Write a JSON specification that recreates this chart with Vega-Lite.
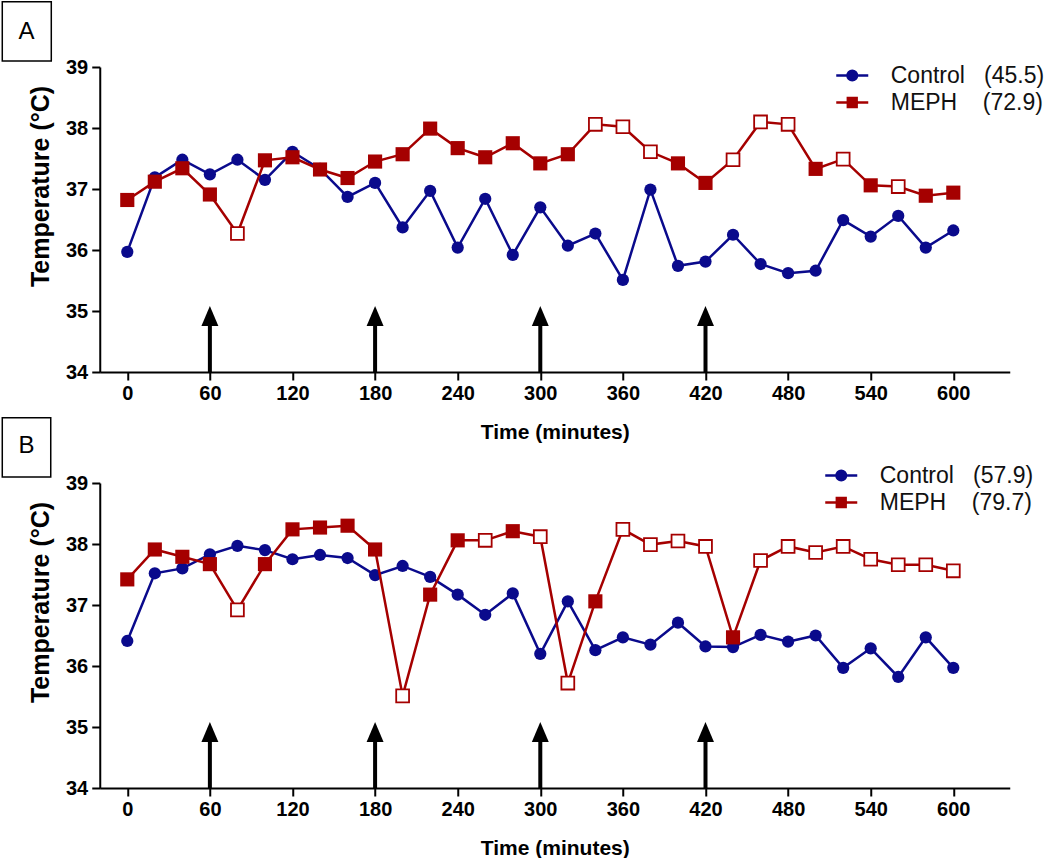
{
  "$schema": "https://vega.github.io/schema/vega-lite/v6.json",
  "padding": {"left": 0.75, "top": 0, "right": 0, "bottom": 0},
  "background": "white",
  "bounds": "flush",
  "spacing": 111,
  "config": {
    "view": {"stroke": null},
    "font": "Liberation Sans",
    "axis": {
      "grid": false, "domainColor": "black", "domainWidth": 2, "tickColor": "black", "tickWidth": 2, "tickSize": 8,
      "labelFont": "Liberation Sans", "labelFontWeight": "bold", "labelFontSize": 20, "labelColor": "black",
      "titleFont": "Liberation Sans", "titleFontWeight": "bold", "titleColor": "black",
      "labelFlush": false, "labelOverlap": false
    }
  },
  "datasets": {
    "main": [
      {"p":"A","g":"Control","t":0,"v":35.97,"o":false},{"p":"A","g":"Control","t":20,"v":37.19,"o":false},{"p":"A","g":"Control","t":40,"v":37.48,"o":false},{"p":"A","g":"Control","t":60,"v":37.24,"o":false},{"p":"A","g":"Control","t":80,"v":37.48,"o":false},{"p":"A","g":"Control","t":100,"v":37.15,"o":false},{"p":"A","g":"Control","t":120,"v":37.61,"o":false},{"p":"A","g":"Control","t":140,"v":37.33,"o":false},{"p":"A","g":"Control","t":160,"v":36.87,"o":false},{"p":"A","g":"Control","t":180,"v":37.10,"o":false},{"p":"A","g":"Control","t":200,"v":36.37,"o":false},{"p":"A","g":"Control","t":220,"v":36.97,"o":false},{"p":"A","g":"Control","t":240,"v":36.04,"o":false},{"p":"A","g":"Control","t":260,"v":36.84,"o":false},{"p":"A","g":"Control","t":280,"v":35.92,"o":false},{"p":"A","g":"Control","t":300,"v":36.70,"o":false},{"p":"A","g":"Control","t":320,"v":36.07,"o":false},{"p":"A","g":"Control","t":340,"v":36.27,"o":false},{"p":"A","g":"Control","t":360,"v":35.51,"o":false},{"p":"A","g":"Control","t":380,"v":36.99,"o":false},{"p":"A","g":"Control","t":400,"v":35.74,"o":false},{"p":"A","g":"Control","t":420,"v":35.81,"o":false},{"p":"A","g":"Control","t":440,"v":36.25,"o":false},{"p":"A","g":"Control","t":460,"v":35.77,"o":false},{"p":"A","g":"Control","t":480,"v":35.62,"o":false},{"p":"A","g":"Control","t":500,"v":35.66,"o":false},{"p":"A","g":"Control","t":520,"v":36.49,"o":false},{"p":"A","g":"Control","t":540,"v":36.22,"o":false},{"p":"A","g":"Control","t":560,"v":36.56,"o":false},{"p":"A","g":"Control","t":580,"v":36.04,"o":false},{"p":"A","g":"Control","t":600,"v":36.32,"o":false},
      {"p":"A","g":"MEPH","t":0,"v":36.82,"o":false},{"p":"A","g":"MEPH","t":20,"v":37.12,"o":false},{"p":"A","g":"MEPH","t":40,"v":37.34,"o":false},{"p":"A","g":"MEPH","t":60,"v":36.91,"o":false},{"p":"A","g":"MEPH","t":80,"v":36.27,"o":true},{"p":"A","g":"MEPH","t":100,"v":37.47,"o":false},{"p":"A","g":"MEPH","t":120,"v":37.52,"o":false},{"p":"A","g":"MEPH","t":140,"v":37.32,"o":false},{"p":"A","g":"MEPH","t":160,"v":37.18,"o":false},{"p":"A","g":"MEPH","t":180,"v":37.45,"o":false},{"p":"A","g":"MEPH","t":200,"v":37.57,"o":false},{"p":"A","g":"MEPH","t":220,"v":37.99,"o":false},{"p":"A","g":"MEPH","t":240,"v":37.67,"o":false},{"p":"A","g":"MEPH","t":260,"v":37.52,"o":false},{"p":"A","g":"MEPH","t":280,"v":37.75,"o":false},{"p":"A","g":"MEPH","t":300,"v":37.42,"o":false},{"p":"A","g":"MEPH","t":320,"v":37.57,"o":false},{"p":"A","g":"MEPH","t":340,"v":38.06,"o":true},{"p":"A","g":"MEPH","t":360,"v":38.02,"o":true},{"p":"A","g":"MEPH","t":380,"v":37.61,"o":true},{"p":"A","g":"MEPH","t":400,"v":37.42,"o":false},{"p":"A","g":"MEPH","t":420,"v":37.10,"o":false},{"p":"A","g":"MEPH","t":440,"v":37.48,"o":true},{"p":"A","g":"MEPH","t":460,"v":38.10,"o":true},{"p":"A","g":"MEPH","t":480,"v":38.06,"o":true},{"p":"A","g":"MEPH","t":500,"v":37.33,"o":false},{"p":"A","g":"MEPH","t":520,"v":37.49,"o":true},{"p":"A","g":"MEPH","t":540,"v":37.06,"o":false},{"p":"A","g":"MEPH","t":560,"v":37.04,"o":true},{"p":"A","g":"MEPH","t":580,"v":36.89,"o":false},{"p":"A","g":"MEPH","t":600,"v":36.94,"o":false},
      {"p":"B","g":"Control","t":0,"v":36.41,"o":false},{"p":"B","g":"Control","t":20,"v":37.52,"o":false},{"p":"B","g":"Control","t":40,"v":37.60,"o":false},{"p":"B","g":"Control","t":60,"v":37.83,"o":false},{"p":"B","g":"Control","t":80,"v":37.97,"o":false},{"p":"B","g":"Control","t":100,"v":37.90,"o":false},{"p":"B","g":"Control","t":120,"v":37.75,"o":false},{"p":"B","g":"Control","t":140,"v":37.82,"o":false},{"p":"B","g":"Control","t":160,"v":37.77,"o":false},{"p":"B","g":"Control","t":180,"v":37.49,"o":false},{"p":"B","g":"Control","t":200,"v":37.64,"o":false},{"p":"B","g":"Control","t":220,"v":37.46,"o":false},{"p":"B","g":"Control","t":240,"v":37.17,"o":false},{"p":"B","g":"Control","t":260,"v":36.84,"o":false},{"p":"B","g":"Control","t":280,"v":37.19,"o":false},{"p":"B","g":"Control","t":300,"v":36.20,"o":false},{"p":"B","g":"Control","t":320,"v":37.06,"o":false},{"p":"B","g":"Control","t":340,"v":36.26,"o":false},{"p":"B","g":"Control","t":360,"v":36.47,"o":false},{"p":"B","g":"Control","t":380,"v":36.35,"o":false},{"p":"B","g":"Control","t":400,"v":36.71,"o":false},{"p":"B","g":"Control","t":420,"v":36.32,"o":false},{"p":"B","g":"Control","t":440,"v":36.31,"o":false},{"p":"B","g":"Control","t":460,"v":36.51,"o":false},{"p":"B","g":"Control","t":480,"v":36.40,"o":false},{"p":"B","g":"Control","t":500,"v":36.50,"o":false},{"p":"B","g":"Control","t":520,"v":35.97,"o":false},{"p":"B","g":"Control","t":540,"v":36.29,"o":false},{"p":"B","g":"Control","t":560,"v":35.82,"o":false},{"p":"B","g":"Control","t":580,"v":36.47,"o":false},{"p":"B","g":"Control","t":600,"v":35.97,"o":false},
      {"p":"B","g":"MEPH","t":0,"v":37.42,"o":false},{"p":"B","g":"MEPH","t":20,"v":37.91,"o":false},{"p":"B","g":"MEPH","t":40,"v":37.79,"o":false},{"p":"B","g":"MEPH","t":60,"v":37.67,"o":false},{"p":"B","g":"MEPH","t":80,"v":36.92,"o":true},{"p":"B","g":"MEPH","t":100,"v":37.67,"o":false},{"p":"B","g":"MEPH","t":120,"v":38.24,"o":false},{"p":"B","g":"MEPH","t":140,"v":38.27,"o":false},{"p":"B","g":"MEPH","t":160,"v":38.30,"o":false},{"p":"B","g":"MEPH","t":180,"v":37.91,"o":false},{"p":"B","g":"MEPH","t":200,"v":35.51,"o":true},{"p":"B","g":"MEPH","t":220,"v":37.17,"o":false},{"p":"B","g":"MEPH","t":240,"v":38.06,"o":false},{"p":"B","g":"MEPH","t":260,"v":38.06,"o":true},{"p":"B","g":"MEPH","t":280,"v":38.21,"o":false},{"p":"B","g":"MEPH","t":300,"v":38.12,"o":true},{"p":"B","g":"MEPH","t":320,"v":35.72,"o":true},{"p":"B","g":"MEPH","t":340,"v":37.06,"o":false},{"p":"B","g":"MEPH","t":360,"v":38.24,"o":true},{"p":"B","g":"MEPH","t":380,"v":37.99,"o":true},{"p":"B","g":"MEPH","t":400,"v":38.05,"o":true},{"p":"B","g":"MEPH","t":420,"v":37.96,"o":true},{"p":"B","g":"MEPH","t":440,"v":36.47,"o":false},{"p":"B","g":"MEPH","t":460,"v":37.73,"o":true},{"p":"B","g":"MEPH","t":480,"v":37.96,"o":true},{"p":"B","g":"MEPH","t":500,"v":37.86,"o":true},{"p":"B","g":"MEPH","t":520,"v":37.96,"o":true},{"p":"B","g":"MEPH","t":540,"v":37.75,"o":true},{"p":"B","g":"MEPH","t":560,"v":37.66,"o":true},{"p":"B","g":"MEPH","t":580,"v":37.66,"o":true},{"p":"B","g":"MEPH","t":600,"v":37.56,"o":true}
    ],
    "arrows": [{"t":60},{"t":180},{"t":300},{"t":420}],
    "labelA": [{"label":"A"}],
    "labelB": [{"label":"B"}]
  },
  "resolve": {"scale": {"color": "independent", "x": "independent", "y": "independent"}, "legend": {"color": "independent"}},
  "vconcat": [
    {
      "width": 910, "height": 305,
      "layer": [
        {
          "data": {"name": "main"},
          "transform": [{"filter": "datum.p == 'A' && datum.g == 'Control'"}],
          "mark": {"type": "line", "strokeWidth": 2.5, "color": "#0a0a8c"},
          "encoding": {
            "x": {"field": "t", "type": "quantitative", "scale": {"domain": [-20, 641], "nice": false, "zero": false},
                  "axis": {"values": [0,60,120,180,240,300,360,420,480,540,600], "title": "Time (minutes)", "titleFontSize": 21, "labelPadding": 3, "titlePadding": 18}},
            "y": {"field": "v", "type": "quantitative", "scale": {"domain": [34, 39], "nice": false, "zero": false},
                  "axis": {"values": [34,35,36,37,38,39], "title": "Temperature (°C)", "titleFontSize": 25, "labelPadding": 4, "titleX": -59, "titleY": 119, "titleBaseline": "middle"}},
            "color": {"field": "g", "type": "nominal", "scale": {"domain": ["Control", "MEPH"], "range": ["#0a0a8c", "#a50000"]},
              "legend": {
                "orient": "none", "legendX": 737, "legendY": -3, "title": null, "padding": 0,
                "labelFont": "Liberation Sans", "labelFontSize": 23, "labelColor": "#111111", "labelOffset": 27, "rowPadding": 3,
                "symbolSize": 256, "symbolStrokeWidth": 2.5, "symbolOffset": 4,
                "labelExpr": "datum.value == 'Control' ? 'Control\u00a0\u00a0\u00a0(45.5)' : 'MEPH\u00a0\u00a0\u00a0\u00a0(72.9)'",
                "encode": {"symbols": {"update": {
                  "shape": {"signal": "datum.value == 'Control' ? 'M-2,0H2M0.6,0A0.6,0.6 0 1,1 -0.6,0A0.6,0.6 0 1,1 0.6,0Z' : 'M-2,0H2M-0.55,-0.55H0.55V0.55H-0.55Z'"},
                  "fill": {"signal": "datum.value == 'Control' ? '#0a0a8c' : '#a50000'"},
                  "stroke": {"signal": "datum.value == 'Control' ? '#0a0a8c' : '#a50000'"},
                  "strokeWidth": {"value": 2.5}
                }}}
              }}
          }
        },
        {
          "data": {"name": "main"},
          "transform": [{"filter": "datum.p == 'A' && datum.g == 'Control'"}],
          "mark": {"type": "point", "shape": "circle", "filled": true, "color": "#0a0a8c", "size": 150, "opacity": 1},
          "encoding": {
            "x": {"field": "t", "type": "quantitative", "axis": {"values": [0,60,120,180,240,300,360,420,480,540,600], "title": "Time (minutes)", "titleFontSize": 21, "labelPadding": 3, "titlePadding": 18}},
            "y": {"field": "v", "type": "quantitative", "axis": {"values": [34,35,36,37,38,39], "title": "Temperature (°C)", "titleFontSize": 25, "labelPadding": 4, "titleX": -59, "titleY": 119, "titleBaseline": "middle"}}}
        },
        {
          "data": {"name": "main"},
          "transform": [{"filter": "datum.p == 'A' && datum.g == 'MEPH'"}],
          "mark": {"type": "line", "strokeWidth": 2.5, "color": "#a50000"},
          "encoding": {
            "x": {"field": "t", "type": "quantitative", "axis": {"values": [0,60,120,180,240,300,360,420,480,540,600], "title": "Time (minutes)", "titleFontSize": 21, "labelPadding": 3, "titlePadding": 18}},
            "y": {"field": "v", "type": "quantitative", "axis": {"values": [34,35,36,37,38,39], "title": "Temperature (°C)", "titleFontSize": 25, "labelPadding": 4, "titleX": -59, "titleY": 119, "titleBaseline": "middle"}}}
        },
        {
          "data": {"name": "main"},
          "transform": [{"filter": "datum.p == 'A' && datum.g == 'MEPH' && !datum.o"}],
          "mark": {"type": "point", "shape": "square", "filled": true, "color": "#a50000", "size": 200, "opacity": 1},
          "encoding": {
            "x": {"field": "t", "type": "quantitative", "axis": {"values": [0,60,120,180,240,300,360,420,480,540,600], "title": "Time (minutes)", "titleFontSize": 21, "labelPadding": 3, "titlePadding": 18}},
            "y": {"field": "v", "type": "quantitative", "axis": {"values": [34,35,36,37,38,39], "title": "Temperature (°C)", "titleFontSize": 25, "labelPadding": 4, "titleX": -59, "titleY": 119, "titleBaseline": "middle"}}}
        },
        {
          "data": {"name": "main"},
          "transform": [{"filter": "datum.p == 'A' && datum.o"}],
          "mark": {"type": "point", "shape": "square", "filled": true, "fill": "white", "stroke": "#a50000", "strokeWidth": 1.8, "size": 165, "opacity": 1},
          "encoding": {
            "x": {"field": "t", "type": "quantitative", "axis": {"values": [0,60,120,180,240,300,360,420,480,540,600], "title": "Time (minutes)", "titleFontSize": 21, "labelPadding": 3, "titlePadding": 18}},
            "y": {"field": "v", "type": "quantitative", "axis": {"values": [34,35,36,37,38,39], "title": "Temperature (°C)", "titleFontSize": 25, "labelPadding": 4, "titleX": -59, "titleY": 119, "titleBaseline": "middle"}}}
        },
        {
          "data": {"name": "arrows"},
          "mark": {"type": "rule", "strokeWidth": 4, "color": "black"},
          "encoding": {
            "x": {"field": "t", "type": "quantitative", "axis": {"values": [0,60,120,180,240,300,360,420,480,540,600], "title": "Time (minutes)", "titleFontSize": 21, "labelPadding": 3, "titlePadding": 18}},
            "y": {"datum": 34, "type": "quantitative", "axis": {"values": [34,35,36,37,38,39], "title": "Temperature (°C)", "titleFontSize": 25, "labelPadding": 4, "titleX": -59, "titleY": 119, "titleBaseline": "middle"}},
            "y2": {"datum": 34.85}}
        },
        {
          "data": {"name": "arrows"},
          "mark": {"type": "point", "shape": "M0,-1L0.77,0.8L-0.77,0.8Z", "filled": true, "color": "black", "size": 484, "opacity": 1},
          "encoding": {
            "x": {"field": "t", "type": "quantitative", "axis": {"values": [0,60,120,180,240,300,360,420,480,540,600], "title": "Time (minutes)", "titleFontSize": 21, "labelPadding": 3, "titlePadding": 18}},
            "y": {"datum": 34.9, "type": "quantitative", "axis": {"values": [34,35,36,37,38,39], "title": "Temperature (°C)", "titleFontSize": 25, "labelPadding": 4, "titleX": -59, "titleY": 119, "titleBaseline": "middle"}}}
        },
        {
          "data": {"name": "labelA"},
          "mark": {"type": "rect", "fill": "white", "stroke": "black", "strokeWidth": 1.5},
          "encoding": {
            "x": {"datum": -90.8, "type": "quantitative", "axis": {"values": [0,60,120,180,240,300,360,420,480,540,600], "title": "Time (minutes)", "titleFontSize": 21, "labelPadding": 3, "titlePadding": 18}},
            "x2": {"datum": -55.2},
            "y": {"datum": 40.07, "type": "quantitative", "axis": {"values": [34,35,36,37,38,39], "title": "Temperature (°C)", "titleFontSize": 25, "labelPadding": 4, "titleX": -59, "titleY": 119, "titleBaseline": "middle"}},
            "y2": {"datum": 39.1}}
        },
        {
          "data": {"name": "labelA"},
          "mark": {"type": "text", "font": "Liberation Sans", "fontSize": 24, "color": "black", "align": "center", "baseline": "middle"},
          "encoding": {
            "x": {"datum": -73.2, "type": "quantitative", "axis": {"values": [0,60,120,180,240,300,360,420,480,540,600], "title": "Time (minutes)", "titleFontSize": 21, "labelPadding": 3, "titlePadding": 18}},
            "y": {"datum": 39.58, "type": "quantitative", "axis": {"values": [34,35,36,37,38,39], "title": "Temperature (°C)", "titleFontSize": 25, "labelPadding": 4, "titleX": -59, "titleY": 119, "titleBaseline": "middle"}},
            "text": {"field": "label"}}
        }
      ]
    },
    {
      "width": 910, "height": 305,
      "layer": [
        {
          "data": {"name": "main"},
          "transform": [{"filter": "datum.p == 'B' && datum.g == 'Control'"}],
          "mark": {"type": "line", "strokeWidth": 2.5, "color": "#0a0a8c"},
          "encoding": {
            "x": {"field": "t", "type": "quantitative", "scale": {"domain": [-20, 641], "nice": false, "zero": false},
                  "axis": {"values": [0,60,120,180,240,300,360,420,480,540,600], "title": "Time (minutes)", "titleFontSize": 21, "labelPadding": 3, "titlePadding": 18}},
            "y": {"field": "v", "type": "quantitative", "scale": {"domain": [34, 39], "nice": false, "zero": false},
                  "axis": {"values": [34,35,36,37,38,39], "title": "Temperature (°C)", "titleFontSize": 25, "labelPadding": 4, "titleX": -59, "titleY": 119, "titleBaseline": "middle"}},
            "color": {"field": "g", "type": "nominal", "scale": {"domain": ["Control", "MEPH"], "range": ["#0a0a8c", "#a50000"]},
              "legend": {
                "orient": "none", "legendX": 726, "legendY": -19, "title": null, "padding": 0,
                "labelFont": "Liberation Sans", "labelFontSize": 23, "labelColor": "#111111", "labelOffset": 27, "rowPadding": 3,
                "symbolSize": 256, "symbolStrokeWidth": 2.5, "symbolOffset": 4,
                "labelExpr": "datum.value == 'Control' ? 'Control\u00a0\u00a0\u00a0(57.9)' : 'MEPH\u00a0\u00a0\u00a0\u00a0(79.7)'",
                "encode": {"symbols": {"update": {
                  "shape": {"signal": "datum.value == 'Control' ? 'M-2,0H2M0.6,0A0.6,0.6 0 1,1 -0.6,0A0.6,0.6 0 1,1 0.6,0Z' : 'M-2,0H2M-0.55,-0.55H0.55V0.55H-0.55Z'"},
                  "fill": {"signal": "datum.value == 'Control' ? '#0a0a8c' : '#a50000'"},
                  "stroke": {"signal": "datum.value == 'Control' ? '#0a0a8c' : '#a50000'"},
                  "strokeWidth": {"value": 2.5}
                }}}
              }}
          }
        },
        {
          "data": {"name": "main"},
          "transform": [{"filter": "datum.p == 'B' && datum.g == 'Control'"}],
          "mark": {"type": "point", "shape": "circle", "filled": true, "color": "#0a0a8c", "size": 150, "opacity": 1},
          "encoding": {
            "x": {"field": "t", "type": "quantitative", "axis": {"values": [0,60,120,180,240,300,360,420,480,540,600], "title": "Time (minutes)", "titleFontSize": 21, "labelPadding": 3, "titlePadding": 18}},
            "y": {"field": "v", "type": "quantitative", "axis": {"values": [34,35,36,37,38,39], "title": "Temperature (°C)", "titleFontSize": 25, "labelPadding": 4, "titleX": -59, "titleY": 119, "titleBaseline": "middle"}}}
        },
        {
          "data": {"name": "main"},
          "transform": [{"filter": "datum.p == 'B' && datum.g == 'MEPH'"}],
          "mark": {"type": "line", "strokeWidth": 2.5, "color": "#a50000"},
          "encoding": {
            "x": {"field": "t", "type": "quantitative", "axis": {"values": [0,60,120,180,240,300,360,420,480,540,600], "title": "Time (minutes)", "titleFontSize": 21, "labelPadding": 3, "titlePadding": 18}},
            "y": {"field": "v", "type": "quantitative", "axis": {"values": [34,35,36,37,38,39], "title": "Temperature (°C)", "titleFontSize": 25, "labelPadding": 4, "titleX": -59, "titleY": 119, "titleBaseline": "middle"}}}
        },
        {
          "data": {"name": "main"},
          "transform": [{"filter": "datum.p == 'B' && datum.g == 'MEPH' && !datum.o"}],
          "mark": {"type": "point", "shape": "square", "filled": true, "color": "#a50000", "size": 200, "opacity": 1},
          "encoding": {
            "x": {"field": "t", "type": "quantitative", "axis": {"values": [0,60,120,180,240,300,360,420,480,540,600], "title": "Time (minutes)", "titleFontSize": 21, "labelPadding": 3, "titlePadding": 18}},
            "y": {"field": "v", "type": "quantitative", "axis": {"values": [34,35,36,37,38,39], "title": "Temperature (°C)", "titleFontSize": 25, "labelPadding": 4, "titleX": -59, "titleY": 119, "titleBaseline": "middle"}}}
        },
        {
          "data": {"name": "main"},
          "transform": [{"filter": "datum.p == 'B' && datum.o"}],
          "mark": {"type": "point", "shape": "square", "filled": true, "fill": "white", "stroke": "#a50000", "strokeWidth": 1.8, "size": 165, "opacity": 1},
          "encoding": {
            "x": {"field": "t", "type": "quantitative", "axis": {"values": [0,60,120,180,240,300,360,420,480,540,600], "title": "Time (minutes)", "titleFontSize": 21, "labelPadding": 3, "titlePadding": 18}},
            "y": {"field": "v", "type": "quantitative", "axis": {"values": [34,35,36,37,38,39], "title": "Temperature (°C)", "titleFontSize": 25, "labelPadding": 4, "titleX": -59, "titleY": 119, "titleBaseline": "middle"}}}
        },
        {
          "data": {"name": "arrows"},
          "mark": {"type": "rule", "strokeWidth": 4, "color": "black"},
          "encoding": {
            "x": {"field": "t", "type": "quantitative", "axis": {"values": [0,60,120,180,240,300,360,420,480,540,600], "title": "Time (minutes)", "titleFontSize": 21, "labelPadding": 3, "titlePadding": 18}},
            "y": {"datum": 34, "type": "quantitative", "axis": {"values": [34,35,36,37,38,39], "title": "Temperature (°C)", "titleFontSize": 25, "labelPadding": 4, "titleX": -59, "titleY": 119, "titleBaseline": "middle"}},
            "y2": {"datum": 34.85}}
        },
        {
          "data": {"name": "arrows"},
          "mark": {"type": "point", "shape": "M0,-1L0.77,0.8L-0.77,0.8Z", "filled": true, "color": "black", "size": 484, "opacity": 1},
          "encoding": {
            "x": {"field": "t", "type": "quantitative", "axis": {"values": [0,60,120,180,240,300,360,420,480,540,600], "title": "Time (minutes)", "titleFontSize": 21, "labelPadding": 3, "titlePadding": 18}},
            "y": {"datum": 34.9, "type": "quantitative", "axis": {"values": [34,35,36,37,38,39], "title": "Temperature (°C)", "titleFontSize": 25, "labelPadding": 4, "titleX": -59, "titleY": 119, "titleBaseline": "middle"}}}
        },
        {
          "data": {"name": "labelB"},
          "mark": {"type": "rect", "fill": "white", "stroke": "black", "strokeWidth": 1.5},
          "encoding": {
            "x": {"datum": -90.8, "type": "quantitative", "axis": {"values": [0,60,120,180,240,300,360,420,480,540,600], "title": "Time (minutes)", "titleFontSize": 21, "labelPadding": 3, "titlePadding": 18}},
            "x2": {"datum": -55.6},
            "y": {"datum": 40.07, "type": "quantitative", "axis": {"values": [34,35,36,37,38,39], "title": "Temperature (°C)", "titleFontSize": 25, "labelPadding": 4, "titleX": -59, "titleY": 119, "titleBaseline": "middle"}},
            "y2": {"datum": 39.1}}
        },
        {
          "data": {"name": "labelB"},
          "mark": {"type": "text", "font": "Liberation Sans", "fontSize": 24, "color": "black", "align": "center", "baseline": "middle"},
          "encoding": {
            "x": {"datum": -73.2, "type": "quantitative", "axis": {"values": [0,60,120,180,240,300,360,420,480,540,600], "title": "Time (minutes)", "titleFontSize": 21, "labelPadding": 3, "titlePadding": 18}},
            "y": {"datum": 39.6, "type": "quantitative", "axis": {"values": [34,35,36,37,38,39], "title": "Temperature (°C)", "titleFontSize": 25, "labelPadding": 4, "titleX": -59, "titleY": 119, "titleBaseline": "middle"}},
            "text": {"field": "label"}}
        }
      ]
    }
  ]
}
